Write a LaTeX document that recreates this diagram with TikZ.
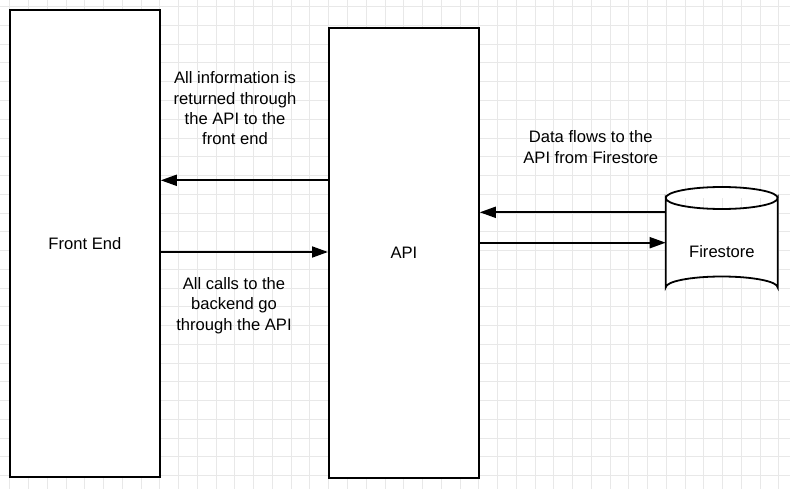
\documentclass[tikz,border=0pt]{standalone}
\usepackage{fontspec}
\setmainfont{Liberation Sans}
\usetikzlibrary{arrows.meta}
\definecolor{gridgray}{HTML}{E8E8E8}
\tikzset{
  gridline/.style={draw=gridgray, line width=1pt},
  block/.style={draw=black, fill=white, line width=1.8pt, inner sep=0pt},
  lbl/.style={align=center, font=\fontsize{16.6}{20.3}\selectfont, inner sep=0pt},
  arr/.style={draw=black, line width=1.8pt, -{Triangle[length=16pt,width=11pt]}},
  cyl/.style={draw=black, fill=white, line width=1.8pt},
}
\begin{document}
\begin{tikzpicture}[x=1pt,y=-1pt]
\useasboundingbox (0,0) rectangle (790,489);
\fill[white] (0,0) rectangle (790,489);
% grid
\foreach \k in {0,...,41} {
  \draw[gridline] ({9.8+18.76*\k},0) -- ({9.8+18.76*\k},489);
}
\foreach \k in {0,...,25} {
  \draw[gridline] (0,{6.7+18.76*\k}) -- (790,{6.7+18.76*\k});
}
% boxes
\node[block, lbl, minimum width=150pt, minimum height=467pt, anchor=north west] (fe) at (9,9) {Front End};
\node[block, lbl, minimum width=150pt, minimum height=450pt, anchor=north west] (api) at (328,27) {API};
% cylinder (Firestore)
\coordinate (cw) at (665.7,198);
\coordinate (ce) at (777.7,198);
\draw[cyl] (cw) -- (cw |- 0,287.5)
  arc[start angle=180, end angle=360, x radius=56, y radius=11]
  -- (ce) arc[start angle=0, end angle=180, x radius=56, y radius=11] -- cycle;
\draw[cyl] (cw) arc[start angle=180, end angle=360, x radius=56, y radius=11];
\node[lbl, minimum width=112pt, minimum height=111pt, anchor=north west] (fs) at (665.7,187) {\raisebox{-15pt}[0pt][0pt]{Firestore}};
% arrows
\draw[arr] (api.west |- 0,180.3) -- (fe.east |- 0,180.3);
\draw[arr] (fe.east |- 0,252) -- (api.west |- 0,252);
\draw[arr] (fs.west |- 0,212.3) -- (api.east |- 0,212.3);
\draw[arr] (api.east |- 0,242.7) -- (fs.west |- 0,242.7);
% labels
\node[lbl] (t1) at (235,108.5) {All information is\\returned through\\the API to the\\front end};
\node[lbl] (t2) at (234,305.5) {All calls to the\\backend go\\through the API};
\node[lbl] (t3) at (590.7,147) {Data flows to the\\API from Firestore};
\end{tikzpicture}
\end{document}
